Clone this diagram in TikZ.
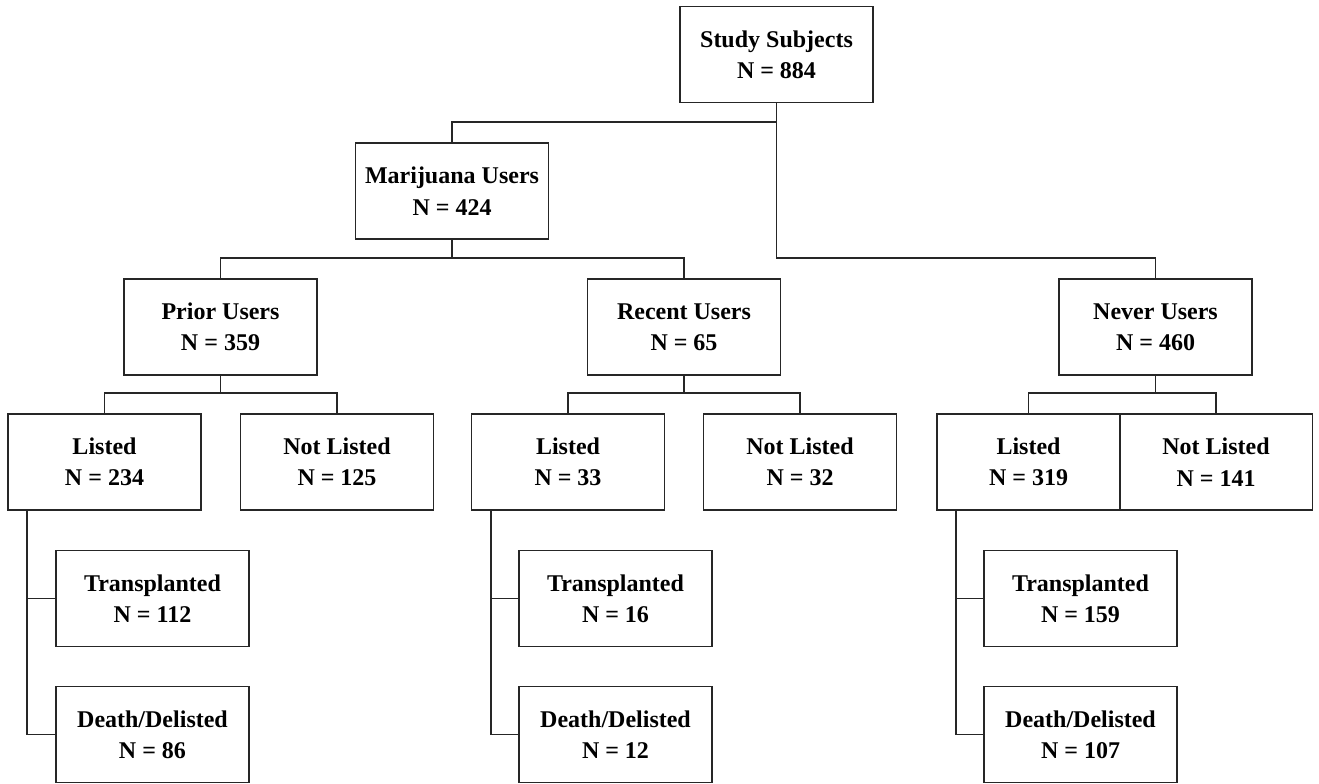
\documentclass[tikz,border=0pt]{standalone}
\usepackage{fontspec}
\setmainfont{Liberation Serif}
\usetikzlibrary{positioning}

\tikzset{
  box/.style={draw=black!85, line width=1.4pt, align=center, inner sep=0pt,
    minimum width=144.75pt, minimum height=72pt,
    font=\bfseries\fontsize{18}{23.5}\selectfont},
  link/.style={draw=black!85, line width=1.4pt}
}

\begin{document}
\begin{tikzpicture}[x=0.75pt, y=0.75pt]
\useasboundingbox (0,0) rectangle (1319,-783);

\node[box] (study) at (776.5,-54.5) {Study Subjects\\N = 884};
\node[box] (mj) at (452,-191) {Marijuana Users\\N = 424};

\node[box] (prior) at (220.5,-327) {Prior Users\\N = 359};
\node[box] (recent) at (684,-327) {Recent Users\\N = 65};
\node[box] (never) at (1155.5,-327) {Never Users\\N = 460};

\node[box] (listedA) at (104.5,-462) {Listed\\N = 234};
\node[box] (notlistedA) at (337,-462) {Not Listed\\N = 125};
\node[box] (listedB) at (568,-462) {Listed\\N = 33};
\node[box] (notlistedB) at (800,-462) {Not Listed\\N = 32};
\node[box, minimum width=137.25pt] (listedC) at (1028.5,-462) {Listed\\N = 319};
\node[box] (notlistedC) at (1216,-462) {Not Listed\\N = 141};

\node[box] (transA) at (152.5,-598.5) {Transplanted\\N = 112};
\node[box] (deathA) at (152.5,-734.5) {Death/Delisted\\N = 86};
\node[box] (transB) at (615.5,-598.5) {Transplanted\\N = 16};
\node[box] (deathB) at (615.5,-734.5) {Death/Delisted\\N = 12};
\node[box] (transC) at (1080.5,-598.5) {Transplanted\\N = 159};
\node[box] (deathC) at (1080.5,-734.5) {Death/Delisted\\N = 107};

\draw [link] (mj.north) -- ++(0,20) -| (study.south);
\draw [link] (never.north) -- ++(0,20) -| (study.south);

\draw [link] (prior.north) -- ++(0,20) -| (mj.south);
\draw [link] (recent.north) -- ++(0,20) -| (mj.south);

\draw [link] (listedA.north) -- ++(0,20) -| (prior.south);
\draw [link] (notlistedA.north) -- ++(0,20) -| (prior.south);
\draw [link] (listedB.north) -- ++(0,20) -| (recent.south);
\draw [link] (notlistedB.north) -- ++(0,20) -| (recent.south);
\draw [link] (listedC.north) -- ++(0,20) -| (never.south);
\draw [link] (notlistedC.north) -- ++(0,20) -| (never.south);

\foreach \g in {A,B,C}
{
  \draw [link] (listed\g.south west) ++(20,0) |- (trans\g.west);
  \draw [link] (listed\g.south west) ++(20,0) |- (death\g.west);
}
\end{tikzpicture}
\end{document}
